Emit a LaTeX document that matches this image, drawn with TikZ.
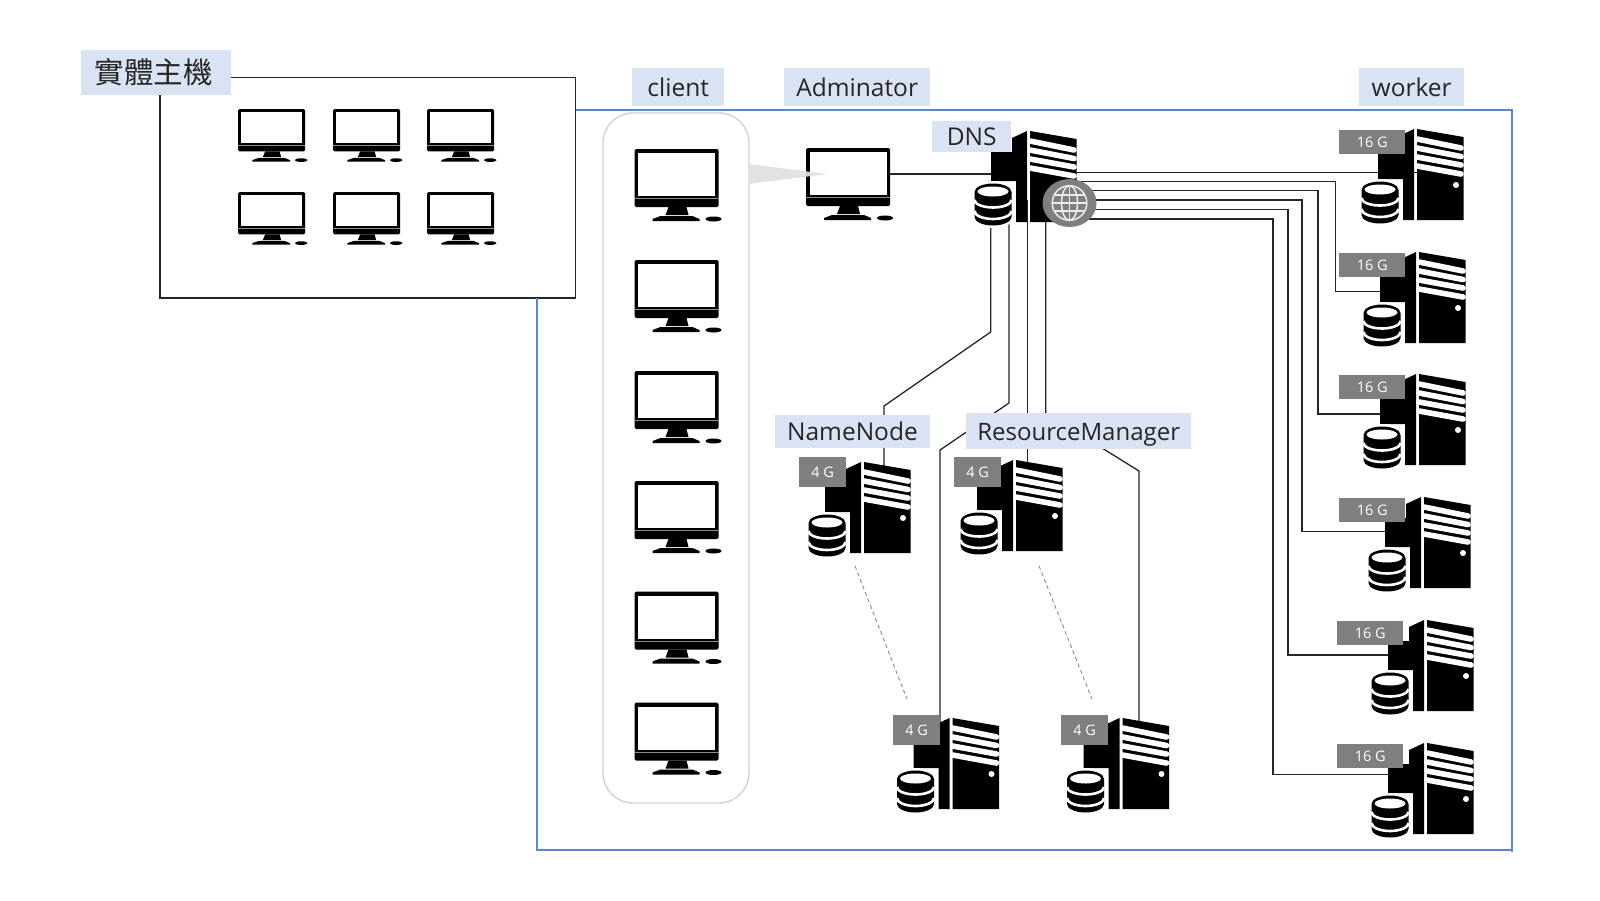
\documentclass[tikz,border=0pt]{standalone}
\usepackage{fontspec}
\usetikzlibrary{calc}
\setmainfont{Open Sans}
\newfontfamily\cjkfont{Noto Sans CJK TC}
\definecolor{tagblue}{HTML}{DAE3F3}
\definecolor{tagtext}{HTML}{262626}
\definecolor{frameblue}{HTML}{5A86D2}
\definecolor{memgrey}{HTML}{7F7F7F}
\tikzset{
  x=1pt,y=-1pt,
  conn/.style={draw=black!85,line width=1.3pt,line join=miter},
  frameline/.style={draw=frameblue,line width=1.3pt},
  label/.style={fill=tagblue,text=tagtext,inner sep=0pt,anchor=north west,align=center,text height=18pt,text depth=0pt,font=\fontsize{24.5}{28}\selectfont},
  mem/.style={fill=memgrey,text=white,inner sep=0pt,anchor=north west,font=\fontsize{14.5}{16}\selectfont},
  monitor/.pic={
    \fill[black,rounded corners=1.5pt] (0,0) rectangle (84,58);
    \fill[white] (3.5,4) rectangle (80.5,47);
    \draw[black!45,line width=.7pt] (0,49.5) -- (84,49.5);
    \fill[black] (34,58) -- (52,58) -- (54,66) -- (31,66) -- cycle;
    \fill[black] (18,72) -- (18,70) -- (26,67) -- (58,67) -- (65,70) -- (65,72) -- cycle;
    \fill[black] (79,70) ellipse [x radius=8,y radius=2.5];
  },
  server/.pic={
    \fill[black] (-3,0) -- (-18,7) -- (-18,21) -- (-39,21) -- (-39,50) -- (-14,50) -- (-14,91) -- (-3,91) -- cycle;
    \fill[black] (0,0) -- (46.5,8) -- (46.5,91) -- (0,91) -- cycle;
    \foreach \a/\b in {10/19,19/27.5,28/36,37/45}
      \draw[white,line width=5.6pt,line cap=round] (0,\a) -- (44,\b);
    \fill[white] (39,56) circle (3pt);
    \fill[black,draw=white,line width=5pt]
      (-55.5,61) arc[start angle=180,end angle=360,x radius=18.5,y radius=8.5]
      -- (-18.5,86) arc[start angle=0,end angle=180,x radius=18.5,y radius=8.5] -- cycle;
    \fill[black]
      (-55.5,61) arc[start angle=180,end angle=360,x radius=18.5,y radius=8.5]
      -- (-18.5,86) arc[start angle=0,end angle=180,x radius=18.5,y radius=8.5] -- cycle;
    \fill[white] (-37,60.5) ellipse [x radius=15.5,y radius=5];
    \draw[white,line width=2.6pt] (-55.5,69) arc[start angle=180,end angle=0,x radius=18.5,y radius=7.5];
    \draw[white,line width=2.6pt] (-55.5,80) arc[start angle=180,end angle=0,x radius=18.5,y radius=8];
  },
  globe/.pic={
    \fill[memgrey] (0,0) ellipse [x radius=27,y radius=24];
    \begin{scope}[white!92!black,line width=1.5pt]
      \draw (0,0) circle (17.3pt);
      \draw (0,0) ellipse [x radius=8,y radius=17.3];
      \draw (0,-17.3) -- (0,17.3);
      \draw (-17.3,0) -- (17.3,0);
      \draw (-14.5,-8) -- (14.5,-8);
      \draw (-14.5,8) -- (14.5,8);
    \end{scope}
  },
}
\begin{document}
\begin{tikzpicture}
\useasboundingbox (0,0) rectangle (1600,900);
\fill[white] (0,0) rectangle (1600,900);

% host box and outer frame
\coordinate (hostTL) at (160,77.5);
\coordinate (hostBR) at (575.5,298);
\draw[conn] (hostTL) rectangle (hostBR);
\coordinate (frameTL) at (537,110);
\coordinate (frameBR) at (1512,850);
\draw[frameline] (hostBR |- frameTL) -- (frameBR |- frameTL) -- (frameBR) -- (frameTL |- frameBR) -- (frameTL |- hostBR);
\draw[frameline] (frameBR) -- ++(0,2);

\node[label,minimum width=150pt,minimum height=45pt,text height=21pt,font=\cjkfont\fontsize{29.5}{32}\selectfont] (host) at (81,50) {\hspace*{-5pt}實體主機};
\node[label,minimum width=92pt,minimum height=38pt] (client) at (632,68) {client};
\node[label,minimum width=146pt,minimum height=38pt] (admin) at (784,68) {Adminator};
\node[label,minimum width=105pt,minimum height=38pt] (worker) at (1359,68) {worker};

% host monitors
\foreach \x in {238,333,427}
  \foreach \y in {109,192}
    \pic[xscale=.8,yscale=.73] at (\x,\y) {monitor};

% client group
\draw[black!18,line width=1.3pt,rounded corners=30pt] (603,113) rectangle (749,803);
\foreach \y in {149,260,371,481,591.5,702.5}
  \pic at (634.5,\y) {monitor};
\pic at (806,148) {monitor};
\coordinate (adminR) at (890,174);
\coordinate (dnsL) at (992,174);

% connector end points on DNS
\coordinate (d1) at (1076,172.7);
\coordinate (d2) at (1076,181.7);
\coordinate (d3) at (1076,190.7);
\coordinate (d4) at (1076,200);
\coordinate (d5) at (1076,209.3);
\coordinate (d6) at (1076,219);
\coordinate (dA) at (990.7,200);
\coordinate (dB) at (1009,200);
\coordinate (dC) at (1027.7,200);
\coordinate (dD) at (1045.7,200);

\coordinate (wp1) at (1417,129);
\coordinate (wp2) at (1419,252);
\coordinate (wp3) at (1419,374);
\coordinate (wp4) at (1424,497);
\coordinate (wp5) at (1427,620);
\coordinate (wp6) at (1427,743);

% connectors
\draw[conn] (adminR) -- (dnsL);
\draw[conn] (d1) -- (wp1 |- d1);
\draw[conn] (d2) -- (1335.7,181.7) |- ($(wp2)+(-35,39.7)$);
\draw[conn] (d3) -- (1318,190.7) |- ($(wp3)+(-35,40)$);
\draw[conn] (d4) -- (1302,200) |- ($(wp4)+(-35,34.6)$);
\draw[conn] (d5) -- (1288,209.3) |- ($(wp5)+(-35,35)$);
\draw[conn] (d6) -- (1273,219) |- ($(wp6)+(-35,31.5)$);

\coordinate (nnIn) at (884,472);
\coordinate (rmIn) at (1027.7,470);
\coordinate (s1In) at (940,735);
\coordinate (s2In) at (1139,735);
\draw[conn] (dA) -- (990.7,332) -- (884,406) -- (nnIn);
\draw[conn] (dB) -- (1009,403) -- (940,450) -- (s1In);
\draw[conn] (dC) -- (rmIn);
\draw[conn] (dD) -- (1045.7,413) -- (1139,471) -- (s2In);

\coordinate (nnB) at (855,566);
\coordinate (s1T) at (907,699);
\coordinate (rmB) at (1039,566);
\coordinate (s2T) at (1092,699);
\draw[black!45,line width=.9pt,dash pattern=on 4pt off 3pt] (nnB) -- (s1T);
\draw[black!45,line width=.9pt,dash pattern=on 4pt off 3pt] (rmB) -- (s2T);

% servers
\pic (dns) at (1030,131) {server};
\pic (w1) at (wp1) {server};
\pic (w2) at (wp2) {server};
\pic (w3) at (wp3) {server};
\pic (w4) at (wp4) {server};
\pic (w5) at (wp5) {server};
\pic (w6) at (wp6) {server};
\pic (nn) at (864,462) {server};
\pic (rm) at (1016,460) {server};
\pic (s1) at (952.5,718) {server};
\pic (s2) at (1122.5,718) {server};
\pic (globe) at (1069.5,203) {globe};

% wedge
\coordinate (wedgeA) at (749,164);
\coordinate (wedgeB) at (749,184);
\coordinate (wedgeT) at (827,174);
\fill[black!12,opacity=.92] (wedgeA) -- (wedgeT) -- (wedgeB) -- cycle;

% memory tags
\foreach \n/\x/\y in {m1/1339/130,m2/1339/253,m3/1339/375,m4/1339/498,m5/1337/621,m6/1337/744}
  \node[mem,minimum width=66pt,minimum height=24pt] (\n) at (\x,\y) {16 G};
\foreach \n/\x/\y in {m7/799/457,m8/954/457,m9/893/715,m10/1061/715}
  \node[mem,minimum width=47pt,minimum height=30pt] (\n) at (\x,\y) {4 G};

\node[label,minimum width=79pt,minimum height=31pt] (dnslabel) at (932,121) {DNS};
\node[label,minimum width=155.5pt,minimum height=33pt] (nnlabel) at (774.5,415) {NameNode};
\node[label,minimum width=225pt,minimum height=36pt,font=\fontsize{24}{28}\selectfont] (rmlabel) at (966,413) {ResourceManager};
\end{tikzpicture}
\end{document}
